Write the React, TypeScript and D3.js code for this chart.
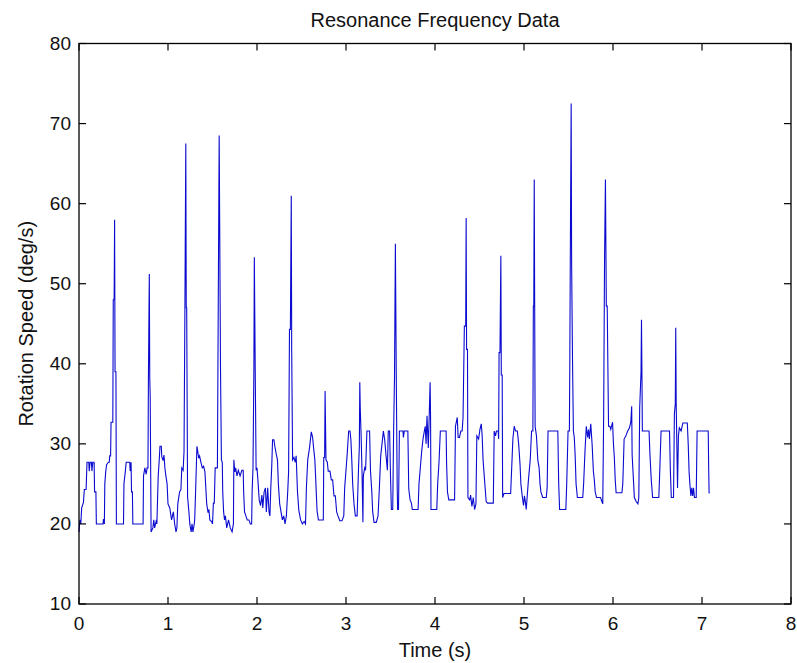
import * as d3 from 'd3';
import React from 'react';

// [time (s), rotation speed (deg/s)], one array per stretch of ~1 s
const sec0: [number, number][] = [
  [0.0, 19.0], [0.01, 20.5], [0.02, 20.0], [0.03, 22.0], [0.05, 22.7], [0.06, 24.3], [0.08, 24.3],
  [0.09, 27.7], [0.11, 27.7], [0.115, 26.6], [0.125, 27.7], [0.14, 27.7], [0.145, 26.6], [0.155, 27.7],
  [0.17, 27.7], [0.175, 24.0], [0.19, 24.0], [0.195, 20.0], [0.27, 20.0], [0.275, 20.6], [0.285, 20.0],
  [0.29, 25.0], [0.3, 26.5], [0.31, 27.4], [0.33, 27.7], [0.34, 27.7], [0.345, 28.5], [0.355, 28.5],
  [0.36, 32.7], [0.38, 32.7], [0.385, 48.0], [0.395, 48.0], [0.4, 58.0], [0.405, 39.0], [0.415, 39.0],
  [0.42, 20.0], [0.5, 20.0], [0.505, 25.0], [0.52, 26.5], [0.53, 27.7], [0.57, 27.7], [0.575, 26.6],
  [0.585, 27.7], [0.59, 24.0], [0.6, 24.0], [0.605, 20.0], [0.72, 20.0], [0.725, 26.0], [0.74, 27.0],
  [0.755, 26.2], [0.765, 27.0], [0.775, 27.0], [0.78, 38.3], [0.79, 51.2], [0.795, 38.3], [0.8, 35.9],
  [0.81, 19.0], [0.83, 19.5], [0.84, 20.5], [0.85, 19.5], [0.87, 20.5], [0.875, 20.0], [0.89, 26.0],
  [0.9, 27.7], [0.91, 29.7], [0.925, 29.7], [0.93, 28.4], [0.945, 27.9], [0.955, 28.6], [0.965, 27.0],
  [0.975, 26.1], [0.99, 25.0],
];

const sec1: [number, number][] = [
  [1.0, 22.5], [1.02, 22.0], [1.04, 20.5], [1.06, 21.5], [1.075, 20.0], [1.09, 19.0], [1.1, 19.5],
  [1.11, 22.5], [1.13, 24.0], [1.145, 24.3], [1.155, 27.0], [1.17, 26.7], [1.18, 29.0], [1.19, 47.0],
  [1.2, 67.5], [1.205, 47.0], [1.21, 47.0], [1.22, 23.4], [1.235, 21.5], [1.245, 20.0], [1.26, 19.0],
  [1.27, 20.0], [1.28, 19.0], [1.295, 20.0], [1.3, 20.5], [1.31, 24.0], [1.325, 29.7], [1.335, 29.0],
  [1.345, 28.2], [1.355, 28.5], [1.37, 27.7], [1.385, 27.0], [1.4, 27.2], [1.415, 26.5], [1.425, 24.5],
  [1.435, 22.5], [1.45, 21.4], [1.46, 21.8], [1.47, 20.5], [1.49, 20.3], [1.5, 20.0], [1.51, 22.6],
  [1.52, 22.6], [1.53, 27.0], [1.555, 27.0], [1.565, 48.0], [1.575, 68.5], [1.58, 59.0], [1.59, 39.3],
  [1.6, 28.0], [1.61, 27.7], [1.615, 24.0], [1.625, 21.5], [1.635, 20.5], [1.645, 21.0], [1.66, 19.5],
  [1.68, 20.5], [1.7, 19.5], [1.72, 19.0], [1.735, 20.0], [1.74, 28.0], [1.75, 26.5], [1.76, 27.0],
  [1.775, 26.0], [1.79, 26.7], [1.81, 26.0], [1.83, 26.7], [1.845, 26.7], [1.85, 24.0], [1.86, 21.5],
  [1.875, 21.0], [1.89, 20.5], [1.91, 20.5], [1.925, 20.0], [1.94, 20.0], [1.945, 24.0], [1.955, 27.0],
  [1.965, 39.3], [1.97, 53.3], [1.98, 39.3], [1.99, 26.7],
];

const sec2: [number, number][] = [
  [2.0, 27.0], [2.01, 25.5], [2.025, 23.0], [2.04, 22.3], [2.055, 23.6], [2.065, 22.0], [2.08, 24.0],
  [2.095, 24.5], [2.105, 21.5], [2.12, 24.5], [2.135, 21.5], [2.145, 21.0], [2.155, 24.5], [2.165, 27.0],
  [2.175, 30.5], [2.19, 30.5], [2.2, 29.7], [2.215, 28.8], [2.23, 28.0], [2.24, 25.0], [2.255, 22.5],
  [2.27, 21.5], [2.285, 20.5], [2.3, 21.0], [2.315, 20.0], [2.33, 21.0], [2.345, 24.0], [2.355, 26.5],
  [2.365, 44.3], [2.375, 44.3], [2.385, 61.0], [2.39, 41.5], [2.4, 28.0], [2.415, 28.3], [2.43, 27.7],
  [2.44, 28.5], [2.455, 24.0], [2.47, 21.7], [2.49, 20.5], [2.51, 20.0], [2.53, 20.3], [2.545, 20.0],
  [2.555, 24.5], [2.57, 28.0], [2.59, 29.5], [2.61, 31.5], [2.625, 30.8], [2.635, 29.6], [2.65, 28.0],
  [2.66, 25.5], [2.675, 21.6], [2.69, 20.5], [2.745, 20.5], [2.75, 28.3], [2.76, 28.3], [2.765, 36.6],
  [2.775, 28.0], [2.79, 27.7], [2.8, 26.6], [2.82, 26.6], [2.835, 25.5], [2.85, 25.5], [2.865, 23.5],
  [2.88, 23.5], [2.895, 21.5], [2.91, 21.0], [2.93, 20.4], [2.955, 20.4], [2.975, 21.0], [2.985, 24.5],
];

const sec3: [number, number][] = [
  [3.0, 26.7], [3.015, 29.0], [3.03, 31.6], [3.045, 31.6], [3.055, 30.5], [3.065, 28.0], [3.075, 25.0],
  [3.09, 22.5], [3.105, 21.0], [3.125, 21.0], [3.14, 26.7], [3.15, 29.7], [3.155, 37.7], [3.16, 34.5],
  [3.17, 31.0], [3.18, 26.5], [3.19, 20.2], [3.195, 26.0], [3.21, 27.0], [3.22, 26.7], [3.235, 31.6],
  [3.265, 31.6], [3.275, 26.7], [3.29, 24.0], [3.3, 21.5], [3.315, 20.2], [3.34, 20.2], [3.36, 21.0],
  [3.375, 24.5], [3.39, 28.5], [3.42, 31.6], [3.435, 30.5], [3.45, 28.5], [3.465, 26.7], [3.475, 31.6],
  [3.49, 31.6], [3.5, 26.0], [3.51, 21.8], [3.525, 21.8], [3.535, 31.6], [3.545, 38.3], [3.555, 55.0],
  [3.565, 38.3], [3.575, 24.7], [3.58, 21.8], [3.59, 21.8], [3.6, 31.6], [3.64, 31.6], [3.645, 30.8],
  [3.655, 31.6], [3.695, 31.6], [3.705, 24.4], [3.72, 23.0], [3.735, 22.6], [3.745, 21.8], [3.81, 21.8],
  [3.82, 25.0], [3.835, 27.0], [3.85, 29.0], [3.865, 30.6], [3.88, 31.6], [3.89, 32.2], [3.9, 30.0],
  [3.91, 33.5], [3.925, 29.5], [3.935, 33.5], [3.945, 37.7], [3.95, 33.5], [3.955, 21.8],
];

const sec4: [number, number][] = [
  [4.02, 21.8], [4.03, 25.0], [4.045, 27.7], [4.06, 31.6], [4.125, 31.6], [4.13, 27.7], [4.14, 24.0],
  [4.155, 23.0], [4.22, 23.0], [4.23, 32.2], [4.25, 33.3], [4.26, 30.8], [4.275, 30.8], [4.29, 31.6],
  [4.305, 31.6], [4.315, 33.3], [4.33, 44.7], [4.345, 44.7], [4.35, 58.2], [4.355, 41.8], [4.365, 41.8],
  [4.37, 23.3], [4.39, 23.0], [4.4, 23.6], [4.415, 22.2], [4.43, 23.3], [4.445, 21.8], [4.46, 22.5],
  [4.47, 31.0], [4.49, 30.6], [4.505, 31.8], [4.52, 32.5], [4.53, 31.0], [4.54, 28.0], [4.55, 26.5],
  [4.56, 25.0], [4.575, 22.8], [4.59, 22.6], [4.655, 22.6], [4.665, 31.6], [4.68, 31.0], [4.69, 31.6],
  [4.71, 31.6], [4.715, 30.6], [4.72, 41.4], [4.73, 41.4], [4.74, 53.5], [4.745, 38.6], [4.755, 38.6],
  [4.76, 23.3], [4.775, 23.8], [4.85, 23.8], [4.86, 26.5], [4.875, 30.6], [4.89, 32.2], [4.905, 31.6],
  [4.925, 31.6], [4.94, 30.0], [4.955, 27.5], [4.965, 25.0], [4.98, 23.5], [4.995, 22.3],
];

const sec5: [number, number][] = [
  [5.005, 23.5], [5.015, 22.8], [5.025, 21.8], [5.035, 23.3], [5.05, 25.5], [5.07, 28.0], [5.085, 31.6],
  [5.1, 31.6], [5.105, 47.2], [5.11, 47.2], [5.115, 63.0], [5.12, 47.2], [5.125, 32.2], [5.14, 31.0],
  [5.155, 28.0], [5.17, 27.0], [5.18, 25.0], [5.19, 24.0], [5.21, 23.3], [5.25, 23.3], [5.26, 24.5],
  [5.27, 31.6], [5.38, 31.6], [5.39, 25.0], [5.4, 21.8], [5.47, 21.8], [5.48, 25.0], [5.495, 31.6],
  [5.51, 31.6], [5.515, 40.5], [5.52, 52.7], [5.53, 72.5], [5.535, 52.7], [5.545, 40.5], [5.555, 31.6],
  [5.565, 30.8], [5.575, 28.5], [5.585, 25.0], [5.6, 23.3], [5.66, 23.3], [5.67, 25.0], [5.685, 29.0],
  [5.7, 32.2], [5.715, 30.8], [5.725, 31.8], [5.735, 30.6], [5.75, 32.5], [5.765, 30.0], [5.78, 26.5],
  [5.79, 25.5], [5.8, 24.0], [5.815, 23.3], [5.86, 23.3], [5.875, 22.8], [5.885, 22.5], [5.895, 33.5],
  [5.905, 53.0], [5.915, 63.0], [5.925, 47.2], [5.935, 47.2], [5.95, 32.2], [5.965, 32.2], [5.975, 31.8],
  [5.995, 32.7],
];

const sec6: [number, number][] = [
  [6.005, 30.0], [6.015, 28.3], [6.025, 25.5], [6.035, 23.9], [6.1, 23.9], [6.11, 25.0], [6.125, 30.6],
  [6.145, 31.0], [6.165, 31.6], [6.185, 32.0], [6.2, 32.7], [6.21, 34.7], [6.215, 28.6], [6.225, 26.5],
  [6.24, 23.3], [6.26, 22.8], [6.28, 22.5], [6.29, 23.3], [6.3, 34.5], [6.315, 39.0], [6.32, 45.5],
  [6.325, 39.0], [6.33, 31.6], [6.405, 31.6], [6.415, 28.7], [6.43, 25.5], [6.445, 23.3], [6.515, 23.3],
  [6.525, 26.5], [6.54, 31.6], [6.635, 31.6], [6.645, 26.5], [6.655, 23.3], [6.68, 23.3], [6.69, 33.8],
  [6.7, 35.0], [6.705, 44.5], [6.71, 35.0], [6.72, 28.0], [6.725, 24.5], [6.735, 31.0], [6.745, 32.0],
  [6.765, 31.6], [6.785, 32.6], [6.835, 32.6], [6.845, 30.0], [6.855, 26.5], [6.865, 24.8], [6.875, 23.5],
  [6.885, 24.5], [6.895, 23.5], [6.905, 24.5], [6.915, 23.3], [6.935, 23.3], [6.945, 31.6], [7.07, 31.6],
  [7.075, 27.0], [7.08, 23.8],
];

const xTicks = [0, 1, 2, 3, 4, 5, 6, 7, 8];
const yTicks = [10, 20, 30, 40, 50, 60, 70, 80];

const font = '"Liberation Sans", Arial, Helvetica, sans-serif';

const App = () => {
  const width = 797, height = 663;
  const box = { left: 79, right: 791, top: 43.5, bottom: 604 };
  const tickLen = 7;

  const data = [...sec0, ...sec1, ...sec2, ...sec3, ...sec4, ...sec5, ...sec6];

  const x = d3.scaleLinear().domain([0, 8]).range([box.left, box.right]);
  const y = d3.scaleLinear().domain([10, 80]).range([box.bottom, box.top]);

  const line = d3.line<[number, number]>()
    .x(d => x(d[0]))
    .y(d => y(d[1]));

  return (
    <svg width={width} height={height} style={{ position: 'absolute', left: 0, top: 0, background: '#fff' }}>
      <rect x={0} y={0} width={width} height={height} fill="#fff" />

      {/* curve */}
      <path d={line(data) ?? ''} fill="none" stroke="#0a0ad0" strokeWidth={1.1} strokeLinejoin="miter" />

      {/* box */}
      <rect x={box.left} y={box.top} width={box.right - box.left} height={box.bottom - box.top}
        fill="none" stroke="#000" strokeWidth={1.3} />

      {xTicks.map(t => (
        <g key={'x' + t}>
          <line x1={x(t)} x2={x(t)} y1={box.bottom} y2={box.bottom - tickLen} stroke="#000" strokeWidth={1.2} />
          <line x1={x(t)} x2={x(t)} y1={box.top} y2={box.top + tickLen} stroke="#000" strokeWidth={1.2} />
          <text x={x(t)} y={630} textAnchor="middle" fontFamily={font} fontSize={19} fill="#111">{t}</text>
        </g>
      ))}

      {yTicks.map(t => (
        <g key={'y' + t}>
          <line x1={box.left} x2={box.left + tickLen} y1={y(t)} y2={y(t)} stroke="#000" strokeWidth={1.2} />
          <line x1={box.right} x2={box.right - tickLen} y1={y(t)} y2={y(t)} stroke="#000" strokeWidth={1.2} />
          <text x={71} y={y(t) + 6} textAnchor="end" fontFamily={font} fontSize={19} fill="#111">{t}</text>
        </g>
      ))}

      <text x={(box.left + box.right) / 2} y={27} textAnchor="middle" fontFamily={font} fontSize={20} fill="#111">
        Resonance Frequency Data
      </text>
      <text x={(box.left + box.right) / 2} y={657} textAnchor="middle" fontFamily={font} fontSize={20} fill="#111">
        Time (s)
      </text>
      <text transform={`translate(33,${(box.top + box.bottom) / 2}) rotate(-90)`} textAnchor="middle"
        fontFamily={font} fontSize={20} fill="#111">
        Rotation Speed (deg/s)
      </text>
    </svg>
  );
};

export default App;
